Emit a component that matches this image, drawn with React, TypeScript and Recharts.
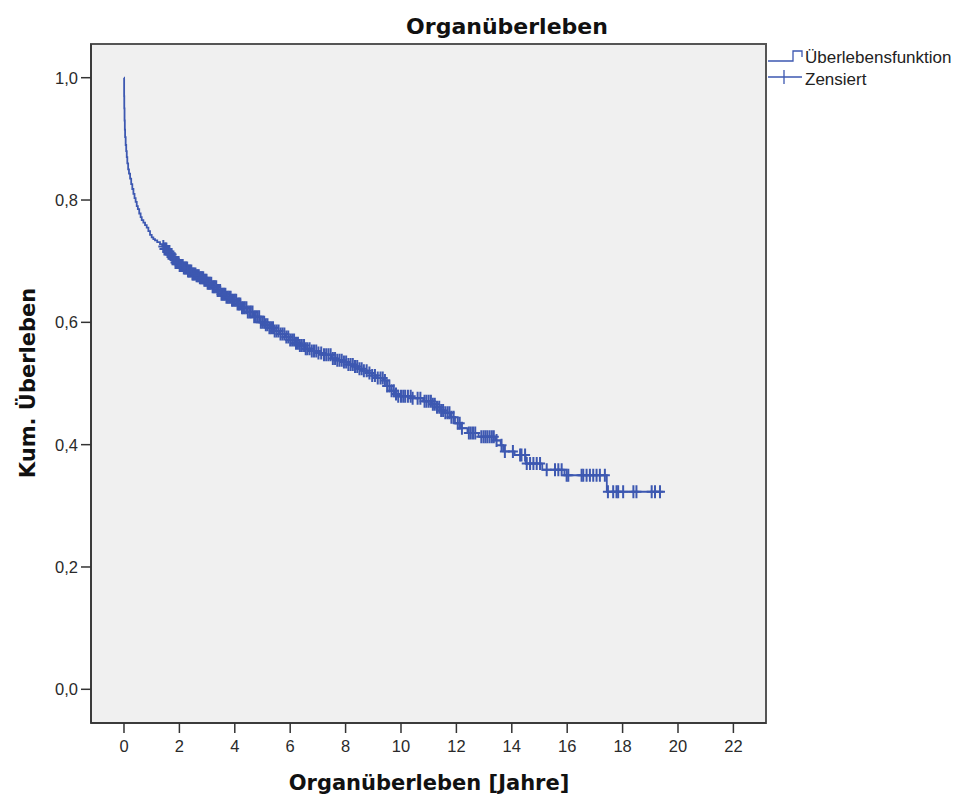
import { CartesianGrid, ComposedChart, Line, ReferenceArea, Scatter, XAxis, YAxis } from "recharts";

// Kaplan-Meier estimate: [years, cumulative survival], read as step corners
const survivalSteps: [number, number][] = [
  [0, 1.0], [0.005, 0.97], [0.01, 0.95], [0.02, 0.93], [0.03, 0.915], [0.04, 0.903],
  [0.06, 0.89], [0.08, 0.88], [0.1, 0.87], [0.12, 0.86], [0.15, 0.85], [0.18, 0.843],
  [0.22, 0.835], [0.26, 0.826], [0.3, 0.818], [0.34, 0.81], [0.38, 0.803], [0.42, 0.797],
  [0.46, 0.79], [0.5, 0.785], [0.55, 0.778], [0.6, 0.772], [0.64, 0.767], [0.7, 0.763],
  [0.76, 0.759], [0.82, 0.755], [0.88, 0.749], [0.94, 0.743], [1.0, 0.739], [1.06, 0.736],
  [1.12, 0.734], [1.2, 0.731], [1.3, 0.728], [1.38, 0.724], [1.45, 0.72], [1.55, 0.716],
  [1.66, 0.711], [1.75, 0.704], [1.85, 0.698], [2.0, 0.693], [2.14, 0.689], [2.3, 0.684],
  [2.45, 0.679], [2.6, 0.676], [2.74, 0.673], [2.87, 0.669], [3.0, 0.664], [3.17, 0.658],
  [3.34, 0.652], [3.52, 0.646], [3.7, 0.641], [3.88, 0.636], [4.07, 0.63], [4.26, 0.624],
  [4.45, 0.617], [4.68, 0.609], [4.91, 0.6], [5.08, 0.596], [5.25, 0.591], [5.44, 0.586],
  [5.63, 0.581], [5.82, 0.576], [6.0, 0.571], [6.18, 0.566], [6.35, 0.562], [6.53, 0.557],
  [6.71, 0.553], [6.95, 0.55], [7.2, 0.547], [7.5, 0.541], [7.7, 0.538], [7.9, 0.535],
  [8.1, 0.531], [8.28, 0.528], [8.45, 0.524], [8.6, 0.521], [8.78, 0.517], [8.95, 0.513],
  [9.15, 0.509], [9.36, 0.505], [9.5, 0.496], [9.65, 0.488], [9.75, 0.483], [9.85, 0.479],
  [10.4, 0.476], [10.8, 0.471], [11.1, 0.466], [11.3, 0.461], [11.45, 0.456], [11.55, 0.452],
  [11.77, 0.445], [11.95, 0.435], [12.13, 0.427], [12.4, 0.419], [12.8, 0.413], [13.4, 0.407],
  [13.6, 0.399], [13.69, 0.389], [14.1, 0.383], [14.5, 0.369], [15.1, 0.359], [15.9, 0.35],
  [17.43, 0.323], [19.47, 0.323],
];

// censored observation times (years)
const censoredTimes: number[] = [
  1.42, 1.46, 1.5, 1.53, 1.57, 1.6, 1.64, 1.68, 1.72, 1.75, 1.79, 1.83, 1.86, 1.9, 1.94,
  1.97, 2.01, 2.05, 2.09, 2.12, 2.16, 2.2, 2.24, 2.28, 2.31, 2.35, 2.39, 2.43, 2.47, 2.5,
  2.54, 2.58, 2.62, 2.66, 2.7, 2.74, 2.78, 2.82, 2.86, 2.9, 2.94, 2.98, 3.02, 3.06, 3.1,
  3.15, 3.2, 3.24, 3.28, 3.33, 3.38, 3.42, 3.47, 3.52, 3.56, 3.61, 3.66, 3.7, 3.75, 3.8,
  3.85, 3.9, 3.95, 4.0, 4.05, 4.1, 4.15, 4.2, 4.26, 4.31, 4.36, 4.42, 4.47, 4.53, 4.58,
  4.64, 4.7, 4.76, 4.82, 4.88, 4.94, 5.0, 5.06, 5.12, 5.18, 5.25, 5.31, 5.38, 5.44, 5.51,
  5.58, 5.65, 5.72, 5.79, 5.86, 5.93, 6.0, 6.07, 6.14, 6.21, 6.28, 6.35, 6.42, 6.5, 6.56,
  6.62, 6.7, 6.78, 6.86, 6.94, 7.02, 7.12, 7.22, 7.3, 7.38, 7.46, 7.54, 7.62, 7.7, 7.78,
  7.86, 7.94, 8.02, 8.1, 8.18, 8.26, 8.34, 8.42, 8.5, 8.58, 8.66, 8.76, 8.86, 8.96, 9.06,
  9.16, 9.26, 9.34, 9.42, 9.5, 9.58, 9.66, 9.74, 9.82, 9.9, 10.0, 10.08, 10.15, 10.25,
  10.35, 10.42, 10.6, 10.7, 10.85, 10.92, 11.0, 11.08, 11.15, 11.22, 11.3, 11.38, 11.45,
  11.52, 11.6, 11.68, 11.75, 11.82, 11.9, 12.05, 12.12, 12.2, 12.45, 12.52, 12.6, 12.68,
  12.9, 12.98, 13.05, 13.12, 13.2, 13.28, 13.35, 13.45, 13.63, 13.75, 14.04, 14.3, 14.35,
  14.48, 14.54, 14.66, 14.78, 14.9, 15.02, 15.26, 15.56, 15.68, 15.8, 15.98, 16.04, 16.52,
  16.58, 16.7, 16.82, 16.94, 17.06, 17.18, 17.36, 17.47, 17.66, 17.78, 17.84, 18.02, 18.39,
  18.5, 19.05, 19.17, 19.35,
];

const xTicks = [0, 2, 4, 6, 8, 10, 12, 14, 16, 18, 20, 22];
const yTicks = [0, 0.2, 0.4, 0.6, 0.8, 1.0];

const X_DOMAIN: [number, number] = [-1.191, 23.177];
const Y_DOMAIN: [number, number] = [-0.0551, 1.0551];
const BLUE = "#3d58b1";
const BOLD = "'DejaVu Sans', sans-serif";
const PLAIN = "'Liberation Sans', Arial, sans-serif";

const survival = survivalSteps.map(([t, s]) => ({ t, s }));

// survival level in effect at time t
const levelAt = (t: number) => {
  let s = survivalSteps[0][1];
  for (const [ti, si] of survivalSteps) {
    if (ti <= t) s = si;
  }
  return s;
};

const censored = censoredTimes.map((t) => ({ t, s: levelAt(t) }));

const fmt = (v: number) => v.toFixed(1).replace(".", ",");

const Cross = (props: any) => {
  const { cx, cy } = props;
  if (cx == null || cy == null) return null;
  return (
    <path
      d={`M${cx - 5},${cy}H${cx + 5}M${cx},${cy - 6.5}V${cy + 6.5}`}
      stroke={BLUE}
      strokeWidth={2}
      fill="none"
    />
  );
};

export default function App() {
  return (
    <div style={{ position: "absolute", left: 0, top: 0, width: 960, height: 796, background: "#fff" }}>
      <ComposedChart
        width={960}
        height={796}
        margin={{ top: 44, right: 194, left: 31, bottom: 43 }}
      >
        <CartesianGrid fill="#f0f0f0" horizontal={false} vertical={false} />
        <XAxis
          type="number"
          dataKey="t"
          domain={X_DOMAIN}
          ticks={xTicks}
          allowDataOverflow
          height={30}
          tickSize={10}
          tickMargin={7}
          axisLine={{ stroke: "#333", strokeWidth: 1.5 }}
          tickLine={{ stroke: "#333", strokeWidth: 1.5 }}
          tick={{ fill: "#2a2a2a", fontSize: 16.5, fontFamily: PLAIN }}
        />
        <YAxis
          type="number"
          dataKey="s"
          domain={Y_DOMAIN}
          ticks={yTicks}
          allowDataOverflow
          width={60}
          tickSize={10}
          tickMargin={3}
          tickFormatter={fmt}
          axisLine={{ stroke: "#333", strokeWidth: 1.5 }}
          tickLine={{ stroke: "#333", strokeWidth: 1.5 }}
          tick={{ fill: "#2a2a2a", fontSize: 16.5, fontFamily: PLAIN }}
        />
        <ReferenceArea
          x1={X_DOMAIN[0]}
          x2={X_DOMAIN[1]}
          y1={Y_DOMAIN[0]}
          y2={Y_DOMAIN[1]}
          fill="none"
          stroke="#555"
          strokeWidth={2}
        />
        <Line
          data={survival}
          dataKey="s"
          type="stepAfter"
          stroke={BLUE}
          strokeWidth={1.8}
          dot={false}
          isAnimationActive={false}
        />
        <Scatter data={censored} dataKey="s" shape={Cross} isAnimationActive={false} />
      </ComposedChart>

      <svg
        width={960}
        height={796}
        style={{ position: "absolute", left: 0, top: 0, pointerEvents: "none" }}
      >
        <text x={507} y={34} textAnchor="middle" fontFamily={BOLD} fontWeight="bold" fontSize={22} fill="#111">
          Organüberleben
        </text>
        <text x={429} y={790} textAnchor="middle" fontFamily={BOLD} fontWeight="bold" fontSize={21} fill="#111">
          Organüberleben [Jahre]
        </text>
        <text
          transform="translate(35,383) rotate(-90)"
          textAnchor="middle"
          fontFamily={BOLD}
          fontWeight="bold"
          fontSize={21}
          fill="#111"
        >
          Kum. Überleben
        </text>

        {/* legend */}
        <path d="M768,61H793V51H802V57" stroke={BLUE} strokeWidth={1.3} fill="none" />
        <text x={805} y={63} fontFamily={PLAIN} fontSize={17} fill="#222">Überlebensfunktion</text>
        <path d="M768,77H802M784,70V84" stroke={BLUE} strokeWidth={1.3} fill="none" />
        <text x={805} y={85} fontFamily={PLAIN} fontSize={17} fill="#222">Zensiert</text>
      </svg>
    </div>
  );
}
